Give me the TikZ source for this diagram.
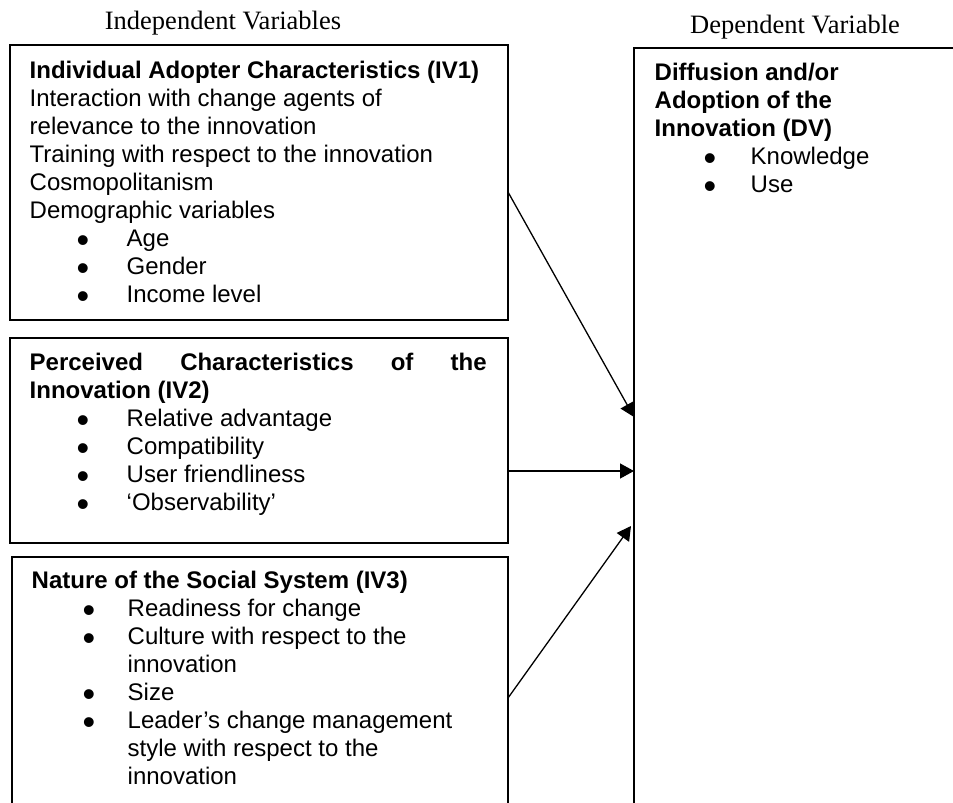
\documentclass[tikz,border=0pt]{standalone}
\usepackage{fontspec}
\setmainfont{Liberation Sans}
\newfontfamily\serifhead{Liberation Serif}
\usetikzlibrary{arrows.meta}
\newcommand\mylines[1]{\vtop{\baselineskip=28pt\lineskip=0pt\lineskiplimit=-100pt\halign{##\hfil\cr #1\crcr}}}
\newcommand\mybul{\smash{\raisebox{-6.5pt}{\fontsize{36}{28}\selectfont\textbullet}}}
\newcommand\itA[1]{\hspace*{47pt}\makebox[50pt][l]{\mybul}#1}
\newcommand\itB[1]{\hspace*{51pt}\makebox[45pt][l]{\mybul}#1}
\newcommand\itC[1]{\hspace*{49pt}\makebox[47pt][l]{\mybul}#1}
\begin{document}
\begin{tikzpicture}[x=1pt,y=-1pt,
  box/.style={draw, line width=1.6pt, rectangle, inner sep=0pt, outer sep=0pt, anchor=north west},
  txt/.style={anchor=base west, inner sep=0pt, font=\fontsize{24}{28}\selectfont},
  head/.style={anchor=base, inner sep=0pt, font=\serifhead\fontsize{26.5}{30}\selectfont},
  arr/.style={line width=1.3pt, -{Triangle[length=14pt,width=15pt]}}]
\useasboundingbox (0,0) rectangle (953,803);
\clip (0,0) rectangle (953,803);
\fill[white] (0,0) rectangle (953,803);

\node[head] (hi) at (223,29) {Independent Variables};
\node[head] (hd) at (795,33) {Dependent Variable};

\node[box, minimum width=498pt, minimum height=275pt] (b1) at (10,45) {};
\node[box, minimum width=498pt, minimum height=205pt] (b2) at (10,338) {};
\node[box, minimum width=496pt, minimum height=320pt] (b3) at (12,557) {};
\node[box, minimum width=400pt, minimum height=820pt] (dv) at (634,48) {};

\node[txt] (t1) at (29.5,78) {\mylines{%
\textbf{Individual Adopter Characteristics (IV1)}\cr
Interaction with change agents of\cr
relevance to the innovation\cr
Training with respect to the innovation\cr
Cosmopolitanism\cr
Demographic variables\cr
\itA{Age}\cr
\itA{Gender}\cr
\itA{Income level}}};

\node[txt] (t2) at (29.5,370) {\mylines{%
\textbf{\hbox to 457pt{Perceived\hfill Characteristics\hfill of\hfill the}}\cr
\textbf{Innovation (IV2)}\cr
\itA{Relative advantage}\cr
\itA{Compatibility}\cr
\itA{User friendliness}\cr
\itA{‘Observability’}}};

\node[txt] (t3) at (31.5,588) {\mylines{%
\textbf{Nature of the Social System (IV3)}\cr
\itB{Readiness for change}\cr
\itB{Culture with respect to the}\cr
\hspace*{96pt}innovation\cr
\itB{Size}\cr
\itB{Leader’s change management}\cr
\hspace*{96pt}style with respect to the\cr
\hspace*{96pt}innovation}};

\node[txt] (t4) at (654.5,80) {\mylines{%
\textbf{Diffusion and/or}\cr
\textbf{Adoption of the}\cr
\textbf{Innovation (DV)}\cr
\itC{Knowledge}\cr
\itC{Use}}};

\draw[arr] ([yshift=-147pt]b1.north east) -- ([yshift=-369pt]dv.north west);
\coordinate (p2) at ([yshift=-133pt]b2.north east);
\draw[arr] (p2) -- (p2 -| dv.west);
\draw[arr] ([yshift=-141pt]b3.north east) -- ([xshift=-3pt,yshift=-478pt]dv.north west);
\end{tikzpicture}
\end{document}
